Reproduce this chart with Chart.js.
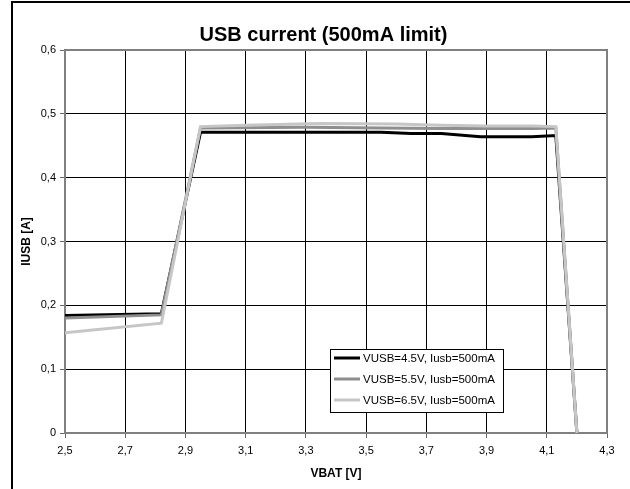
<!DOCTYPE html>
<html>
<head>
<meta charset="utf-8">
<script src="https://cdn.jsdelivr.net/npm/chart.js@4.4.0/dist/chart.umd.min.js"></script>
<style>
  html, body { margin: 0; padding: 0; background: #fff; }
</style>
</head>
<body>
<canvas id="usbChart" width="630" height="489"></canvas>
<script>
// Chart data
const chartTitle = 'USB current (500mA limit)';
const xTitle = 'VBAT [V]';
const yTitle = 'IUSB [A]';
const seriesLabels = ['VUSB=4.5V, Iusb=500mA', 'VUSB=5.5V, Iusb=500mA', 'VUSB=6.5V, Iusb=500mA'];
const seriesColors = ['#000000', '#8e8e8e', '#c6c6c6'];

const vbat45 = [2.5, 2.82, 2.95, 3.3, 3.55, 3.65, 3.75, 3.88, 4.05, 4.13, 4.2];
const iusb45 = [0.184, 0.187, 0.471, 0.471, 0.471, 0.469, 0.469, 0.464, 0.464, 0.466, 0];

const vbat55 = [2.5, 2.82, 2.95, 3.3, 3.55, 3.75, 3.9, 4.05, 4.13, 4.2];
const iusb55 = [0.180, 0.185, 0.478, 0.479, 0.478, 0.477, 0.477, 0.477, 0.478, 0];

const vbat65 = [2.5, 2.82, 2.95, 3.1, 3.35, 3.6, 3.75, 3.9, 4.05, 4.13, 4.2];
const iusb65 = [0.157, 0.172, 0.480, 0.482, 0.485, 0.484, 0.482, 0.481, 0.481, 0.480, 0];

const xTickValues = [2.5, 2.7, 2.9, 3.1, 3.3, 3.5, 3.7, 3.9, 4.1, 4.3];
const yTickValues = [0, 0.1, 0.2, 0.3, 0.4, 0.5, 0.6];

const toPoints = (xs, ys) => xs.map((x, i) => ({ x: x, y: ys[i] }));
const commaLabel = v => (v === 0 ? '0' : v.toFixed(1).replace('.', ','));

const seriesX = [vbat45, vbat55, vbat65];
const seriesY = [iusb45, iusb55, iusb65];

// Outer frame, plot border and legend box (Excel look)
const excelLook = {
    id: 'excelLook',
    afterLayout(chart) {
        if (chart.titleBlock) chart.titleBlock.left += 40;
    },
    beforeDraw(chart) {
        const ctx = chart.ctx;
        ctx.save();
        ctx.fillStyle = '#fff';
        ctx.fillRect(0, 0, chart.width, chart.height);
        ctx.strokeStyle = '#000';
        ctx.lineWidth = 2;
        ctx.strokeRect(12, 2, 700, 600);
        ctx.restore();
    },
    beforeDatasetsDraw(chart) {
        const { ctx, chartArea: a } = chart;
        ctx.save();
        ctx.strokeStyle = '#808080';
        ctx.lineWidth = 2;
        ctx.strokeRect(a.left, a.top, a.right - a.left, a.bottom - a.top);
        ctx.restore();
    },
    afterDatasetsDraw(chart) {
        const { ctx, chartArea: a } = chart;
        const bx = a.left + 265, by = a.top + 299, bw = 173, bh = 63;
        ctx.save();
        ctx.fillStyle = '#fff';
        ctx.fillRect(bx, by, bw, bh);
        ctx.strokeStyle = '#000';
        ctx.lineWidth = 1;
        ctx.strokeRect(bx + 0.5, by + 0.5, bw, bh);
        ctx.font = '11.5px Arial, "Liberation Sans", sans-serif';
        ctx.textBaseline = 'middle';
        seriesLabels.forEach((label, i) => {
            const y = by + 9 + i * 21;
            ctx.strokeStyle = seriesColors[i];
            ctx.lineWidth = 3;
            ctx.beginPath();
            ctx.moveTo(bx + 4, y);
            ctx.lineTo(bx + 30, y);
            ctx.stroke();
            ctx.fillStyle = '#000';
            ctx.fillText(label, bx + 33, y + 1);
        });
        ctx.restore();
    }
};

const ctx = document.getElementById('usbChart').getContext('2d');
const usbChart = new Chart(ctx, {
    type: 'line',
    data: {
        datasets: seriesLabels.map((label, i) => ({
            label: label,
            data: toPoints(seriesX[i], seriesY[i]),
            borderColor: seriesColors[i],
            borderWidth: 3,
            pointRadius: 0,
            tension: 0,
            fill: false,
            order: 3 - i
        }))
    },
    options: {
        responsive: false,
        animation: false,
        layout: { padding: { left: 0, right: 23, top: 0, bottom: 0 } },
        plugins: {
            legend: { display: false },
            tooltip: { enabled: false },
            title: {
                display: true,
                text: chartTitle,
                color: '#000',
                font: { family: 'Arial, "Liberation Sans", sans-serif', size: 20, weight: 'bold' },
                padding: { top: 23, bottom: 3 }
            }
        },
        scales: {
            x: {
                type: 'linear',
                min: 2.5,
                max: 4.3,
                afterBuildTicks: s => { s.ticks = xTickValues.map(v => ({ value: v })); },
                afterFit: s => { s.height = 56; },
                ticks: {
                    color: '#000',
                    padding: 6,
                    maxRotation: 0,
                    font: { family: 'Arial, "Liberation Sans", sans-serif', size: 11 },
                    callback: v => commaLabel(v)
                },
                grid: { color: '#000', lineWidth: 1, tickLength: 5, tickColor: '#666' },
                border: { display: false },
                title: {
                    display: true,
                    text: xTitle,
                    color: '#000',
                    font: { family: 'Arial, "Liberation Sans", sans-serif', size: 12, weight: 'bold' },
                    padding: { top: 0, bottom: 8 }
                }
            },
            y: {
                type: 'linear',
                min: 0,
                max: 0.6,
                afterBuildTicks: s => { s.ticks = yTickValues.map(v => ({ value: v })); },
                afterFit: s => { s.width = 65; },
                ticks: {
                    color: '#000',
                    padding: 4,
                    font: { family: 'Arial, "Liberation Sans", sans-serif', size: 11 },
                    callback: v => commaLabel(v)
                },
                grid: { color: '#000', lineWidth: 1, tickLength: 5, tickColor: '#666' },
                border: { display: false },
                title: {
                    display: true,
                    text: yTitle,
                    color: '#000',
                    font: { family: 'Arial, "Liberation Sans", sans-serif', size: 12, weight: 'bold' },
                    padding: { top: 19, bottom: 0 }
                }
            }
        }
    },
    plugins: [excelLook]
});
</script>
</body>
</html>
